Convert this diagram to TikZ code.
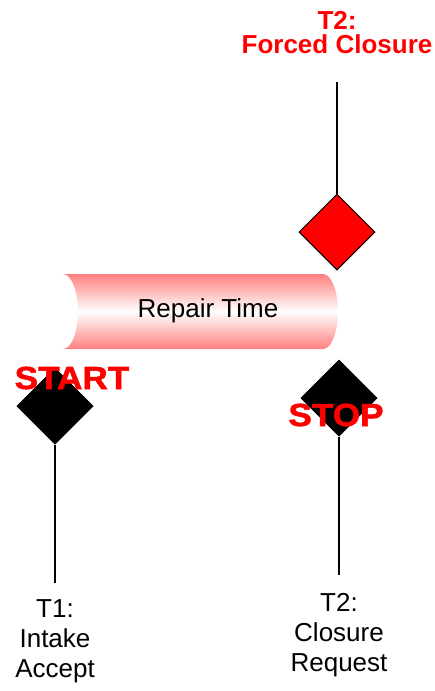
\documentclass[tikz,border=0pt]{standalone}
\usepackage{fontspec}
\setmainfont{Liberation Sans}
\newfontfamily\flagfont[FakeStretch=1.1,FakeBold=1.6]{Liberation Sans Bold}
\usetikzlibrary{shapes.geometric}

\begin{document}
\begin{tikzpicture}[
   x=1pt,y=-1pt,
   gem/.style={diamond,draw,line width=1pt,inner sep=0pt,aspect=1,minimum width=76pt,minimum height=76pt},
   lbl/.style={font=\fontsize{26}{30}\selectfont,align=center,inner sep=2pt},
   flag/.style={font=\flagfont\fontsize{32}{32}\selectfont,text=red,inner sep=0pt},
   stem/.style={line width=1.5pt}]
  \useasboundingbox (0,0) rectangle (435,691);
  \shade[top color=red!50,bottom color=red!50,middle color=white]
    (63,274) -- (323,274) .. controls (331.3,274) and (338,290.8) .. (338,311.5)
    .. controls (338,332.2) and (331.3,349) .. (323,349) -- (63,349)
    .. controls (71.3,349) and (78,332.2) .. (78,311.5)
    .. controls (78,290.8) and (71.3,274) .. (63,274) -- cycle;
  \node[font=\fontsize{26}{30}\selectfont] (pipe) at (208,311) {Repair Time};
  \node[lbl,anchor=south,font=\fontsize{26}{24}\selectfont\bfseries,text=red] (forced) at (337,56) {T2:\\Forced Closure};
  \node[gem,fill=red] (shut) at (337,232) {};
  \node[gem,fill=black] (go) at (55,406) {};
  \node[gem,fill=black] (halt) at (339,398) {};
  \node[flag] (gotxt) at (72,378) {START};
  \node[flag] (halttxt) at (336,415) {STOP};
  \node[lbl,anchor=north] (intake) at (55,597) {T1:\\Intake\\Accept};
  \node[lbl,anchor=north] (closure) at (339,591) {T2:\\Closure\\Request};
  \draw[stem,shorten >=26pt] (shut.north) -- (forced.south);
  \draw[stem,shorten >=14pt] (go.south) -- (intake.north);
  \draw[stem,shorten >=16pt] (halt.south) -- (closure.north);
\end{tikzpicture}
\end{document}
